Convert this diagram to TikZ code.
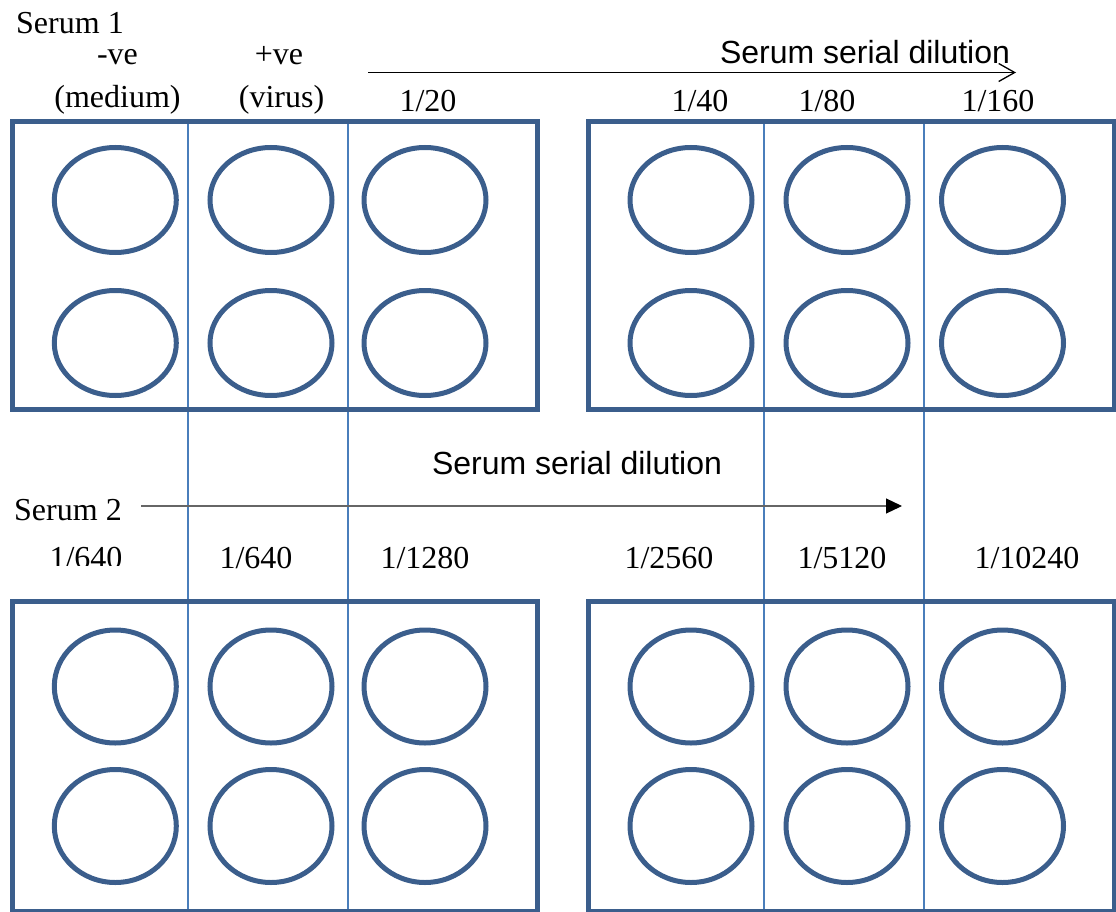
\documentclass[tikz,border=0pt]{standalone}
\usepackage{fontspec}
\setmainfont{Liberation Serif}
\newfontfamily\arialfont{Liberation Sans}
\usetikzlibrary{arrows.meta,shapes.geometric}
\definecolor{plateblue}{RGB}{59,94,140}
\definecolor{lineblue}{RGB}{74,126,187}
\begin{document}
\begin{tikzpicture}[x=1pt,y=-1pt,
  plate/.style={draw=plateblue,line width=5pt,rectangle,inner sep=0pt,outer sep=0pt},
  welltop/.style={draw=plateblue,line width=5pt,ellipse,minimum width=122pt,minimum height=105pt,inner sep=0pt},
  wellbot/.style={draw=plateblue,line width=5pt,ellipse,minimum width=122pt,minimum height=113pt,inner sep=0pt},
  sep/.style={draw=lineblue,line width=1.4pt},
  tlab/.style={font=\fontsize{32}{36}\selectfont,inner sep=0pt,anchor=base},
  alab/.style={font=\arialfont\fontsize{32}{36}\selectfont,inner sep=0pt,anchor=base},
  toparrow/.style={draw=black,line width=1.3pt,-{Straight Barb[length=16pt,width=18pt,line width=1.3pt]}},
  botarrow/.style={draw=black!60,line width=1.2pt,-{Triangle[length=16pt,width=15pt,color=black]}}
]
\useasboundingbox (0,0) rectangle (1116,912);
\clip (0,0) rectangle (1116,912);

% separator lines
\foreach \n/\x in {a/188,b/348,c/764,d/924}{
  \coordinate (sep\n t) at (\x,121.7);
  \coordinate (sep\n b) at (\x,914);
  \draw[sep] (sep\n t) -- (sep\n b);
}

% plates
\node[plate,minimum width=525.5pt,minimum height=287.3pt] (pTL) at (274.75,265.35) {};
\node[plate,minimum width=526pt,minimum height=287.3pt] (pTR) at (851,265.35) {};
\node[plate,minimum width=525.5pt,minimum height=309.5pt] (pBL) at (274.75,756.25) {};
\node[plate,minimum width=526pt,minimum height=309.5pt] (pBR) at (851,756.25) {};

% wells
\foreach \i/\x in {1/115.3,2/271,3/425,4/691,5/847,6/1002.5}{
  \node[welltop] (wA\i) at (\x,200) {};
  \node[welltop] (wB\i) at (\x,343) {};
  \node[wellbot] (wC\i) at (\x,686.5) {};
  \node[wellbot] (wD\i) at (\x,826) {};
}

% top labels
\node[tlab,anchor=base west] (s1) at (16,34) {Serum 1};
\node[tlab] (neg1) at (117.5,65) {-ve};
\node[tlab] (neg2) at (117.5,108) {(medium)};
\node[tlab] (pos1) at (279,65) {+ve};
\node[tlab] (pos2) at (281.5,108) {(virus)};
\node[tlab] (d20) at (428,112) {1/20};
\node[tlab] (d40) at (700,112) {1/40};
\node[tlab] (d80) at (827,112) {1/80};
\node[tlab] (d160) at (998,112) {1/160};

\node[alab] (ssd1) at (865,64) {Serum serial dilution};
\coordinate (a1s) at (368,72.5);
\coordinate (a1e) at (1016,72.5);
\draw[toparrow] (a1s) -- (a1e);

% middle
\node[alab] (ssd2) at (577,474) {Serum serial dilution};
\node[tlab,anchor=base west] (s2) at (14,520) {Serum 2};
\coordinate (a2s) at (141,506);
\coordinate (a2e) at (902,506);
\draw[botarrow] (a2s) -- (a2e);

% bottom labels
\begin{scope}
\clip (0,530) rectangle (180,565);
\node[tlab] (e640a) at (86,568) {1/640};
\end{scope}
\node[tlab] (e640b) at (256,568) {1/640};
\node[tlab] (e1280) at (425,568) {1/1280};
\node[tlab] (e2560) at (669,568) {1/2560};
\node[tlab] (e5120) at (842,568) {1/5120};
\node[tlab] (e10240) at (1027,568) {1/10240};
\end{tikzpicture}
\end{document}
